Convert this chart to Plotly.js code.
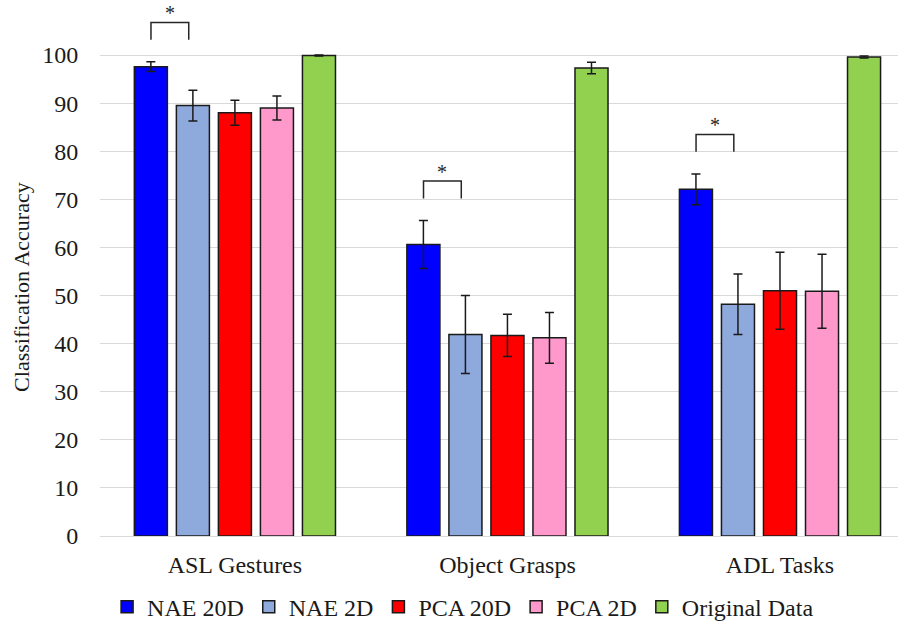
<!DOCTYPE html>
<html>
<head>
<meta charset="utf-8">
<script src="https://cdn.plot.ly/plotly-3.0.1.min.js"></script>
<style>html,body{margin:0;padding:0;background:#fff;}#chart{width:901px;height:624px;}</style>
</head>
<body>
<div id="chart"></div>
<script>
const categories = ["ASL Gestures", "Object Grasps", "ADL Tasks"];
const seriesNames = ["NAE 20D", "NAE 2D", "PCA 20D", "PCA 2D", "Original Data"];
const nae20d = [97.6, 60.6, 72.1];
const nae20dErr = [1.0, 5.0, 3.2];
const nae2d = [89.5, 41.9, 48.2];
const nae2dErr = [3.2, 8.1, 6.3];
const pca20d = [88.0, 41.7, 51.0];
const pca20dErr = [2.6, 4.4, 8.0];
const pca2d = [89.0, 41.2, 50.9];
const pca2dErr = [2.5, 5.3, 7.7];
const original = [99.9, 97.3, 99.6];
const originalErr = [0.1, 1.2, 0.2];
const significant = [true, true, true];
const yTicks = [0, 10, 20, 30, 40, 50, 60, 70, 80, 90, 100];
const yTitle = "Classification Accuracy";

const FONT = "'Liberation Serif', 'Times New Roman', 'DejaVu Serif', serif";
const colors = ["#0000FF", "#8EA9DB", "#FF0000", "#FF99CC", "#92D050"];
const values = [nae20d, nae2d, pca20d, pca2d, original];
const errs = [nae20dErr, nae2dErr, pca20dErr, pca2dErr, originalErr];

const traces = values.map((v, i) => ({
  type: "bar",
  name: seriesNames[i],
  x: categories,
  y: v,
  marker: {color: colors[i], line: {color: "#1a1a1a", width: 1.5}},
  error_y: {type: "data", array: errs[i], visible: true, color: "#1a1a1a", thickness: 1.5, width: 4.5},
  hoverinfo: "y"
}));

const slot = 0.154;
const shapes = [];
const annotations = [];
categories.forEach((c, i) => {
  if (!significant[i]) return;
  const low = nae20d[i] + nae20dErr[i] + 4.6;
  const high = low + 3.6;
  const x0 = i - 2 * slot;
  const x1 = i - 1.1 * slot;
  shapes.push({
    type: "path", xref: "x", yref: "y",
    path: `M ${x0} ${low} L ${x0} ${high} L ${x1} ${high} L ${x1} ${low}`,
    line: {color: "#262626", width: 1.5}
  });
  annotations.push({
    x: (x0 + x1) / 2, y: high + 1.9, xref: "x", yref: "y",
    text: "*", showarrow: false, yanchor: "middle",
    font: {family: FONT, size: 20, color: "#262626"}
  });
});

annotations.push({
  xref: "paper", yref: "paper", x: -0.0977, y: 0.471,
  xanchor: "center", yanchor: "middle", textangle: -90,
  text: yTitle, showarrow: false,
  font: {family: FONT, size: 22, color: "#1a1a1a"}
});

const layout = {
  width: 901, height: 624,
  margin: {l: 100, r: 3, t: 7, b: 88},
  paper_bgcolor: "#fff", plot_bgcolor: "#fff",
  barmode: "group", bargap: 0.229, bargroupgap: 0.214,
  font: {family: FONT, size: 24, color: "#1a1a1a"},
  xaxis: {
    type: "category",
    range: [-0.495, 2.433],
    ticks: "outside", ticklen: 7, tickcolor: "rgba(0,0,0,0)",
    showline: true, linecolor: "#d9d9d9", linewidth: 1,
    showgrid: false, zeroline: false,
    tickfont: {family: FONT, size: 24, color: "#1a1a1a"}
  },
  yaxis: {
    range: [0, 110],
    tickvals: yTicks,
    ticktext: yTicks.map(String),
    ticks: "outside", ticklen: 16, tickcolor: "rgba(0,0,0,0)",
    showgrid: true, gridcolor: "#d9d9d9", gridwidth: 1,
    zeroline: false, showline: false,
    tickfont: {family: FONT, size: 24, color: "#1a1a1a"}
  },
  showlegend: true,
  legend: {
    orientation: "h", x: 0.455, xanchor: "center",
    yref: "container", y: 0.027, yanchor: "middle",
    font: {family: FONT, size: 24, color: "#1a1a1a"},
    itemwidth: 30, tracegroupgap: 0
  },
  shapes: shapes,
  annotations: annotations
};

Plotly.newPlot("chart", traces, layout, {displayModeBar: false, staticPlot: true});
</script>
</body>
</html>
